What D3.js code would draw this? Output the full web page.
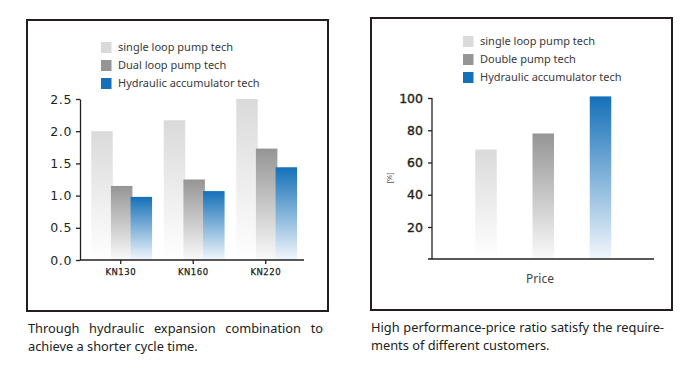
<!DOCTYPE html>
<html>
<head>
<meta charset="utf-8">
<script src="https://cdn.jsdelivr.net/npm/d3@7"></script>
<style>
  body { margin: 0; background: #fff; }
  svg { display: block; }
</style>
</head>
<body>
<svg id="chart" width="682" height="374"></svg>
<script>
// cycle time chart
var groups = ["KN130", "KN160", "KN220"];
var cycleSeries = ["single loop pump tech", "Dual loop pump tech", "Hydraulic accumulator tech"];
var singleLoop = [2.0, 2.17, 2.5];
var dualLoop = [1.15, 1.25, 1.73];
var accumulator = [0.98, 1.07, 1.44];
var cycleTicks = [0, 0.5, 1.0, 1.5, 2.0, 2.5];

// price chart
var priceSeries = ["single loop pump tech", "Double pump tech", "Hydraulic accumulator tech"];
var priceValues = [68, 78, 101];
var priceTicks = [20, 40, 60, 80, 100];

var leftCaption = ["Through hydraulic expansion combination to", "achieve a shorter cycle time."];
var rightCaption = ["High performance-price ratio satisfy the require-", "ments of different customers."];

var topColors = ["#dadada", "#959595", "#1570b8"];
var bottomColors = ["#ffffff", "#fafafa", "#f2f7fc"];
var ink = "#231f20";
var textFont = "'Noto Sans', sans-serif";
var numFont = "'DejaVu Sans', sans-serif";

var svg = d3.select("#chart");
svg.append("rect").attr("width", 682).attr("height", 374).attr("fill", "#fff");

var defs = svg.append("defs");
topColors.forEach(function (c, i) {
    var g = defs.append("linearGradient")
        .attr("id", "grad" + i)
        .attr("x1", 0).attr("y1", 0).attr("x2", 0).attr("y2", 1);
    g.append("stop").attr("offset", "0%").attr("stop-color", c);
    g.append("stop").attr("offset", "100%").attr("stop-color", bottomColors[i]);
});

// frames
svg.append("rect").attr("x", 27).attr("y", 20).attr("width", 301).attr("height", 291)
    .attr("fill", "none").attr("stroke", ink).attr("stroke-width", 2);
svg.append("rect").attr("x", 371).attr("y", 18).attr("width", 301).attr("height", 292)
    .attr("fill", "none").attr("stroke", ink).attr("stroke-width", 2);

function legend(g, names, x, y0, step) {
    var row = g.selectAll(".leg")
        .data(names)
        .enter()
        .append("g")
        .attr("transform", function (d, i) { return "translate(" + x + "," + (y0 + i * step) + ")"; });
    row.append("rect")
        .attr("x", 0).attr("y", -5.5).attr("width", 10.5).attr("height", 11)
        .attr("fill", function (d, i) { return topColors[i]; });
    row.append("text")
        .attr("x", 17).attr("dy", "0.35em")
        .attr("font-family", textFont).attr("font-size", 11)
        .attr("fill", "#3a3a3a")
        .text(function (d) { return d; });
}

// ---------- left chart ----------
var left = svg.append("g");
var y = d3.scaleLinear().domain([0, 2.5]).range([260, 99]);
var x0 = d3.scaleBand().domain(groups).range([84.5, 302]);
var x1 = d3.scaleBand().domain(cycleSeries).range([-29.5, 29.5]);

var cycleRows = [singleLoop, dualLoop, accumulator];
cycleRows.forEach(function (vals, si) {
    left.selectAll(".bar" + si)
        .data(vals)
        .enter()
        .append("rect")
        .attr("x", function (d, i) { return x0(groups[i]) + x0.bandwidth() / 2 + x1(cycleSeries[si]); })
        .attr("y", function (d) { return y(d); })
        .attr("width", 21.5)
        .attr("height", function (d) { return y(0) - y(d); })
        .attr("fill", "url(#grad" + si + ")");
});

var yAxisL = left.append("g")
    .attr("transform", "translate(80,0)")
    .call(d3.axisLeft(y).tickValues(cycleTicks).tickFormat(d3.format(".1f")).tickSize(4).tickSizeOuter(0));
yAxisL.selectAll("path, line").attr("stroke", ink).attr("stroke-width", 1.3);
yAxisL.selectAll("text").attr("font-family", numFont).attr("font-size", 12.5)
    .attr("fill", ink).attr("x", -8).attr("letter-spacing", 0.6);

var xAxisL = left.append("g")
    .attr("transform", "translate(0,260)")
    .call(d3.axisBottom(x0).tickSize(4).tickSizeOuter(0));
xAxisL.select(".domain").attr("d", "M80,0H304");
xAxisL.selectAll("path, line").attr("stroke", ink).attr("stroke-width", 1.3);
xAxisL.selectAll("text").attr("font-family", numFont).attr("font-size", 8.5)
    .attr("fill", ink).attr("y", 9).attr("letter-spacing", 0.5)
    .attr("stroke", ink).attr("stroke-width", 0.25);

legend(left, cycleSeries, 101, 47.5, 18);

// ---------- right chart ----------
var right = svg.append("g");
var yR = d3.scaleLinear().domain([0, 100]).range([259.25, 98]);
var xR = d3.scalePoint().domain(priceSeries).range([486, 600.5]);

right.selectAll(".pbar")
    .data(priceValues)
    .enter()
    .append("rect")
    .attr("x", function (d, i) { return xR(priceSeries[i]) - 10.75; })
    .attr("y", function (d) { return yR(d); })
    .attr("width", 21.5)
    .attr("height", function (d) { return yR(0) - yR(d); })
    .attr("fill", function (d, i) { return "url(#grad" + i + ")"; });

var yAxisR = right.append("g")
    .attr("transform", "translate(432,0)")
    .call(d3.axisLeft(yR).tickValues(priceTicks).tickSize(4).tickSizeOuter(0));
yAxisR.select(".domain").attr("d", "M0,98V259");
yAxisR.selectAll("path, line").attr("stroke", ink).attr("stroke-width", 1.3);
yAxisR.selectAll("text").attr("font-family", numFont).attr("font-size", 12.5)
    .attr("fill", ink).attr("x", -9).attr("stroke", ink).attr("stroke-width", 0.35);

right.append("line")
    .attr("x1", 428).attr("x2", 654).attr("y1", 259).attr("y2", 259)
    .attr("stroke", ink).attr("stroke-width", 1.3);

right.append("text")
    .attr("transform", "translate(392,178) rotate(-90)")
    .attr("text-anchor", "middle")
    .attr("font-family", textFont).attr("font-size", 7.5)
    .attr("fill", "#555")
    .text("[%]");

right.append("text")
    .attr("x", 540).attr("y", 283)
    .attr("text-anchor", "middle")
    .attr("font-family", textFont).attr("font-size", 12)
    .attr("fill", "#444")
    .text("Price");

legend(right, priceSeries, 463, 41.5, 18);

// ---------- captions ----------
var capSize = 12.8;
function justifyLine(line, xa, xb, yb) {
    var words = line.split(" ");
    var g = svg.append("g");
    var nodes = words.map(function (w) {
        return g.append("text").attr("y", yb)
            .attr("font-family", textFont).attr("font-size", capSize)
            .attr("fill", "#222").text(w);
    });
    var widths = nodes.map(function (n) { return n.node().getComputedTextLength(); });
    var gap = (xb - xa - d3.sum(widths)) / (words.length - 1);
    var x = xa;
    nodes.forEach(function (n, i) { n.attr("x", x); x += widths[i] + gap; });
}
function plainLine(line, xa, yb) {
    svg.append("text").attr("x", xa).attr("y", yb)
        .attr("font-family", textFont).attr("font-size", capSize)
        .attr("fill", "#222").text(line);
}
justifyLine(leftCaption[0], 28, 323, 333);
plainLine(leftCaption[1], 28, 351);
justifyLine(rightCaption[0], 371, 664, 332);
plainLine(rightCaption[1], 371, 350);
</script>
</body>
</html>
